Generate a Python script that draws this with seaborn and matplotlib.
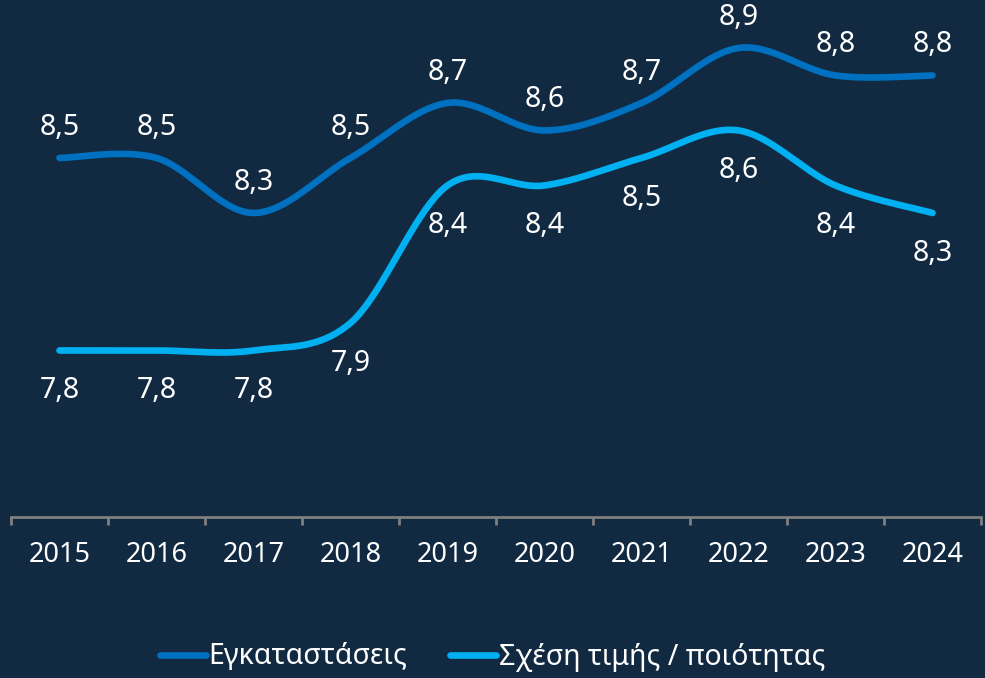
import numpy as np
import pandas as pd
import matplotlib.pyplot as plt
import seaborn as sns

# Δεδομένα
years = ['2015', '2016', '2017', '2018', '2019', '2020', '2021', '2022', '2023', '2024']
egkatastaseis = [8.5, 8.5, 8.3, 8.5, 8.7, 8.6, 8.7, 8.9, 8.8, 8.8]
timi_poiotita = [7.8, 7.8, 7.8, 7.9, 8.4, 8.4, 8.5, 8.6, 8.4, 8.3]
series_names = ['Εγκαταστάσεις', 'Σχέση τιμής / ποιότητας']

bg = '#112A42'
colors = ['#0070C0', '#00B0F0']


def smooth(xs, ys, n=40):
    # Bezier με σημεία ελέγχου τύπου Catmull-Rom (όπως οι "smoothed lines" του Excel)
    xs = np.asarray(xs, float)
    ys = np.asarray(ys, float)
    px = np.concatenate([[xs[0]], xs, [xs[-1]]])
    py = np.concatenate([[ys[0]], ys, [ys[-1]]])
    out_x, out_y = [], []
    t = np.linspace(0, 1, n)
    for i in range(1, len(px) - 2):
        p0 = np.array([px[i], py[i]])
        p3 = np.array([px[i + 1], py[i + 1]])
        c1 = p0 + (np.array([px[i + 1], py[i + 1]]) - np.array([px[i - 1], py[i - 1]])) / 6
        c2 = p3 - (np.array([px[i + 2], py[i + 2]]) - np.array([px[i], py[i]])) / 6
        b = ((1 - t) ** 3)[:, None] * p0 + (3 * (1 - t) ** 2 * t)[:, None] * c1 \
            + (3 * (1 - t) * t ** 2)[:, None] * c2 + (t ** 3)[:, None] * p3
        out_x.extend(b[:, 0])
        out_y.extend(b[:, 1])
    return out_x, out_y


idx = np.arange(len(years))
frames = []
for name, vals in zip(series_names, [egkatastaseis, timi_poiotita]):
    sx, sy = smooth(idx, vals)
    frames.append(pd.DataFrame({'x': sx, 'y': sy, 'series': name}))
df = pd.concat(frames, ignore_index=True)

sns.set_theme(style='white')
plt.rcParams['font.family'] = ['Noto Sans', 'DejaVu Sans']

fig = plt.figure(figsize=(9.85, 6.78), dpi=100, facecolor=bg)
ax = fig.add_axes([11 / 985, (678 - 517) / 678, 970 / 985, 507 / 678])
ax.set_facecolor(bg)

sns.lineplot(data=df, x='x', y='y', hue='series', palette=colors, sort=False,
             estimator=None, units='series', linewidth=4.8, ax=ax, legend=False,
             solid_capstyle='round')

ax.set_xlim(-0.5, len(years) - 0.5)
ax.set_ylim(7.1945, 9.038)

# Ετικέτες τιμών
for i, v in enumerate(egkatastaseis):
    ax.annotate(f'{v:.1f}'.replace('.', ','), (i, v), xytext=(0, 22), textcoords='offset points',
                ha='center', va='center', color='white', fontsize=20.5, annotation_clip=False)
for i, v in enumerate(timi_poiotita):
    ax.annotate(f'{v:.1f}'.replace('.', ','), (i, v), xytext=(0, -29), textcoords='offset points',
                ha='center', va='center', color='white', fontsize=20.5, annotation_clip=False)

# Άξονες
for s in ['top', 'left', 'right']:
    ax.spines[s].set_visible(False)
ax.spines['bottom'].set_color('#808080')
ax.spines['bottom'].set_linewidth(2)
ax.set_yticks([])
ax.set_xticks(np.arange(-0.5, len(years), 1))
ax.set_xticklabels([])
ax.tick_params(axis='x', which='major', length=6, width=2, color='#808080', direction='out', bottom=True)
ax.set_xticks(idx, minor=True)
ax.set_xticklabels(years, minor=True)
ax.tick_params(axis='x', which='minor', length=0, pad=17, labelsize=19.5, labelcolor='white')
ax.set_xlabel('')
ax.set_ylabel('')

# Υπόμνημα
handles = [plt.Line2D([], [], color=c, lw=4.8, solid_capstyle='round') for c in colors]
leg = fig.legend(handles, series_names, loc='center', bbox_to_anchor=(0.5, (678 - 657) / 678),
                 ncol=2, frameon=False, fontsize=20.5, handlelength=1.6, handletextpad=0.1,
                 columnspacing=1.5)
for t in leg.get_texts():
    t.set_color('white')

fig.savefig('out.png', dpi=100, facecolor=bg)
